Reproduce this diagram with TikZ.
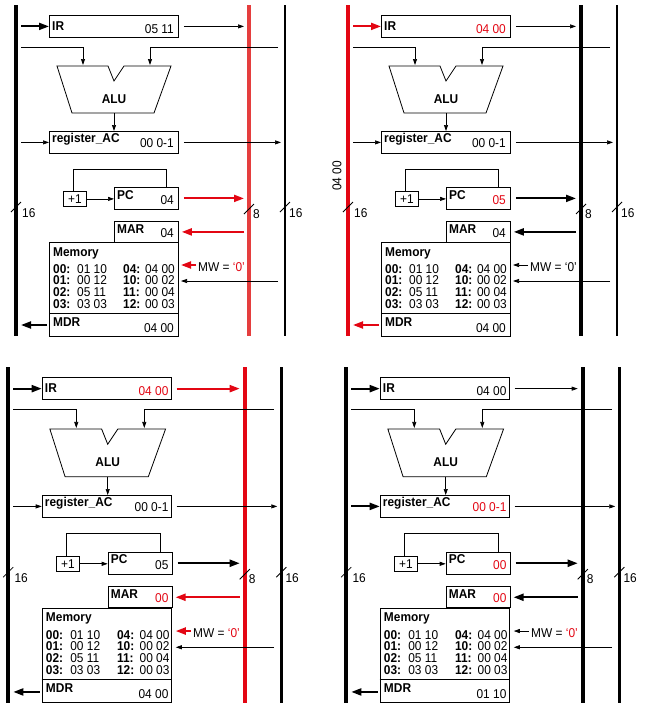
\documentclass[tikz,border=0pt]{standalone}
\usepackage{fontspec}
\setmainfont{Liberation Sans}[Scale=1.28, FakeStretch=0.93]
\usepackage{tikz}
\usetikzlibrary{arrows.meta,calc}
\definecolor{HotRed}{HTML}{E30613}
\definecolor{BusRed}{HTML}{E53E3E}

\newcommand{\hot}[1]{\textcolor{HotRed}{#1}}

\tikzset{
  reg/.style={draw, line width=0.8pt, inner sep=0pt, anchor=north west},
  lbl/.style={font=\bfseries, inner sep=0pt, anchor=base west},
  val/.style={inner sep=0pt, anchor=base east},
  txt/.style={inner sep=0pt, anchor=base west},
  thn/.style={-{Triangle[length=6pt,width=4pt]}, line width=0.7pt},
  thk/.style={-{Triangle[length=10pt,width=7pt]}, line width=2pt},
  thkr/.style={thk, HotRed},
  bus/.style={line width=4pt},
  slash/.style={line width=0.8pt},
  % per panel, overridden in the scope options
  irin/.style={thk}, irout/.style={thn}, acin/.style={thn},
  pcout/.style={thk}, marin/.style={thk}, mwin/.style={thn}, mdrout/.style={thk},
  lbuscol/.style={black}, mbuscol/.style={black}
}

% #1 scope options, #2 IR, #3 AC, #4 PC, #5 MAR, #6 MDR, #7 MW value
\newcommand{\cpupanel}[7]{%
\begin{scope}[#1]
  % buses
  \coordinate (lbt) at (16,5);   \coordinate (lbb) at (16,336);
  \coordinate (mbt) at (249,5);  \coordinate (mbb) at (249,336);
  \coordinate (rbt) at (285,5);  \coordinate (rbb) at (285,336);
  \draw[bus, lbuscol] (lbt) -- (lbb);
  \draw[bus, mbuscol] (mbt) -- (mbb);
  \draw[bus, line width=2.8pt] (rbt) -- (rbb);

  % bus widths
  \coordinate (ls) at (16,207); \coordinate (ms) at (249,209); \coordinate (rs) at (285,207);
  \draw[slash] ($(ls)+(-5,5)$) -- ($(ls)+(5,-5)$);
  \draw[slash] ($(ms)+(-5,5)$) -- ($(ms)+(5,-5)$);
  \draw[slash] ($(rs)+(-5,5)$) -- ($(rs)+(5,-5)$);
  \node[txt] (lw) at (22,217) {16};
  \node[txt] (mw8) at (253,218) {8};
  \node[txt] (rw) at (289,217) {16};

  % IR
  \node[reg, minimum width=129, minimum height=22] (ir) at (49,15) {};
  \node[lbl] (irl) at (52,30) {IR};
  \node[val] (irv) at (174,33) {#2};
  \draw[irin] ($(ir.west -| lbt)+(5,0)$) -- (ir.west);
  \draw[irout] ($(ir.east)+(5,0)$) -- ($(ir.east -| mbt)+(-5,0)$);

  % ALU
  \coordinate (alul) at (21,47);  \coordinate (alur) at (278,47);
  \coordinate (alua) at (83,65);  \coordinate (alub) at (150,65);
  \draw[line width=0.8pt] (57,66) -- (108,66) -- (114,81) -- (124,66) -- (171,66)
    -- (154,113) -- (72,113) -- cycle;
  \node[font=\bfseries] (alu) at (114,99) {ALU};
  \coordinate (aluo) at (114,113);
  \draw[thn] (alul) -| (alua);
  \draw[thn] (alur) -| (alub);

  % register_AC
  \node[reg, minimum width=129, minimum height=22] (ac) at (49,131) {};
  \node[lbl] (acl) at (52,142) {register\_AC};
  \node[val] (acv) at (174,147) {#3};
  \draw[thn] (aluo) -- (aluo |- ac.north);
  \draw[acin] ($(ac.west -| lbt)+(5,0)$) -- (ac.west);
  \draw[thn] ($(ac.east)+(5,0)$) -- ($(ac.east -| rbt)+(-4,0)$);

  % PC
  \node[reg, minimum width=23, minimum height=15] (inc) at (63,191) {+1};
  \node[reg, minimum width=64, minimum height=22] (pc) at (114,187) {};
  \node[lbl] (pcl) at (117,199) {PC};
  \node[val] (pcv) at (174,204) {#4};
  \draw[thn] (inc.east) -- (inc.east -| pc.west);
  \draw[line width=0.7pt] ($(inc.north)+(-1.5,0)$) -- ++(0,-22) -| ($(pc.north)+(20,0)$);
  \draw[pcout] ($(pc.east)+(5,0)$) -- ($(pc.east -| mbt)+(-5,0)$);

  % MAR
  \node[reg, minimum width=64, minimum height=21] (mar) at (114,221) {};
  \node[lbl] (marl) at (117,233) {MAR};
  \node[val] (marv) at (174,237) {#5};
  \draw[marin] ($(mar.east -| mbt)+(-5,0)$) -- ($(mar.east)+(3,0)$);

  % Memory and MDR
  \node[reg, minimum width=129, minimum height=94] (mem) at (49,242) {};
  \coordinate (mdrt) at (49,313);
  \draw[line width=0.8pt] (mdrt) -- (mdrt -| mem.east);
  \node[lbl] (meml) at (53,256) {Memory};
  \foreach \ra/\va/\rb/\vb [count=\i from 0] in {00/01 10/04/04 00, 01/00 12/10/00 02,
      02/05 11/11/00 04, 03/03 03/12/00 03} {
    \node[lbl] (ra\i) at (53,{273+11.7*\i}) {\ra:};
    \node[txt] (va\i) at (77,{273+11.7*\i}) {\va};
    \node[lbl] (rb\i) at (123,{273+11.7*\i}) {\rb:};
    \node[val] (vb\i) at (175,{273+11.7*\i}) {\vb};
  }
  \node[lbl] (mdrl) at (53,326) {MDR};
  \node[val] (mdrv) at (174,332) {#6};
  \coordinate (mdrw) at (49,325);
  \draw[mdrout] ($(mdrw)+(-2,0)$) -- ($(mdrw -| lbt)+(5,0)$);

  % memory write and data in
  \coordinate (mwp) at (178,265);
  \coordinate (memp) at (178,281);
  \draw[mwin] ($(mwp)+(18,0)$) -- ($(mwp)+(3,0)$);
  \node[txt] (mwl) at (198,271) {MW = #7};
  \draw[thn] ($(memp -| rbt)+(-7,0)$) -- ($(memp)+(3,0)$);
\end{scope}}

\begin{document}
\begin{tikzpicture}[x=1pt, y=-1pt]
  \useasboundingbox (0,0) rectangle (646,710);
  \fill[white] (0,0) rectangle (646,710);

  \cpupanel{name prefix=a-, mbuscol/.style={BusRed}, pcout/.style={thkr},
    marin/.style={thkr}, mwin/.style={thkr}}%
    {05 11}{00 0-1}{04}{04}{04 00}{\hot{‘0’}}

  \cpupanel{name prefix=b-, shift={(332,0)}, lbuscol/.style={HotRed},
    irin/.style={thkr}, mdrout/.style={thkr}}%
    {\hot{04 00}}{00 0-1}{\hot{05}}{04}{04 00}{‘0’}
  \node[rotate=90] (busval) at (337,176) {04 00};

  \cpupanel{name prefix=c-, shift={(-8,362)}, scale=1.015, mbuscol/.style={HotRed},
    irout/.style={thkr}, marin/.style={thkr}, mwin/.style={thkr}}%
    {\hot{04 00}}{00 0-1}{05}{\hot{00}}{04 00}{\hot{‘0’}}

  \cpupanel{name prefix=d-, shift={(330,362)}, scale=1.015, acin/.style={thk}}%
    {04 00}{\hot{00 0-1}}{\hot{00}}{\hot{00}}{01 10}{\hot{‘0’}}
\end{tikzpicture}
\end{document}
